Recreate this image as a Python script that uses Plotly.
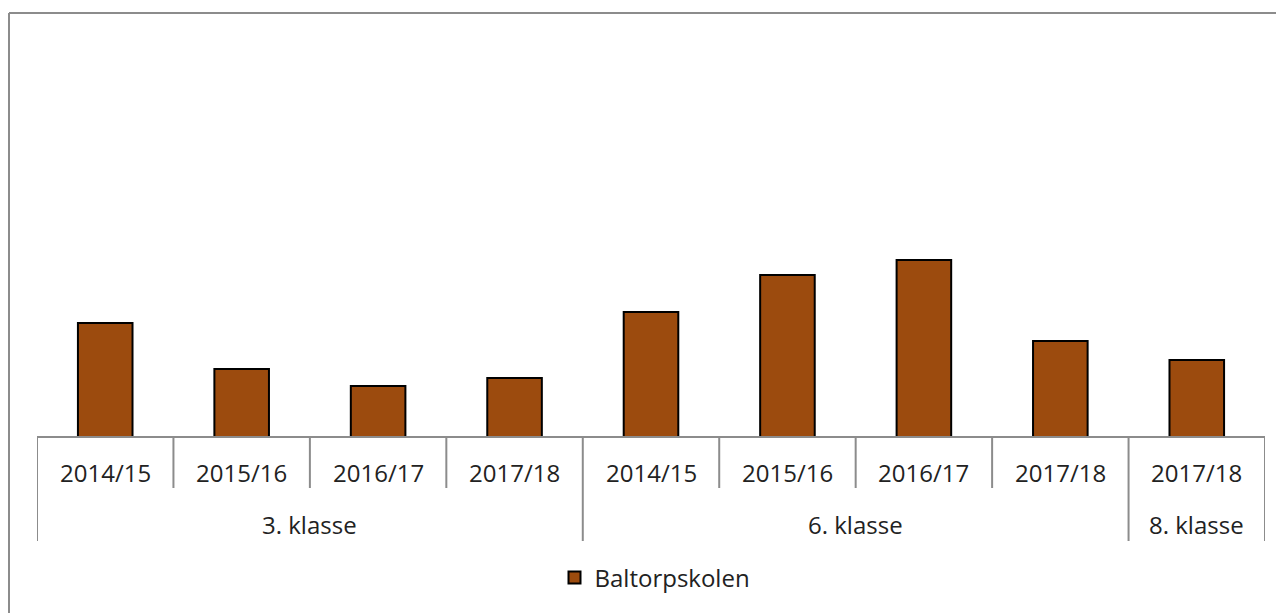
import plotly.graph_objects as go

years = ["2014/15", "2015/16", "2016/17", "2017/18",
         "2014/15", "2015/16", "2016/17", "2017/18", "2017/18"]
groups = ["3. klasse", "6. klasse", "8. klasse"]
group_sizes = [4, 4, 1]
values = [11.4, 6.8, 5.1, 5.9, 12.5, 16.2, 17.7, 9.6, 7.7]
series_name = "Baltorpskolen"

# page offset (body margin) in the screenshot
OFF = 8
W, H = 1284, 613
L, R, T, B = 37 - OFF, 1284 - 1265 + OFF, 30 - OFF, 613 - 437 + OFF
pw, ph = W - L - R, H - T - B

def px_x(p):
    return (p - OFF - L) / pw

def px_y(p):
    return (H - B - (p - OFF)) / ph

xs = list(range(len(values)))
fig = go.Figure()
fig.add_trace(go.Bar(
    x=xs, y=values, name=series_name, width=0.40,
    marker=dict(color="#9C4B0E", line=dict(color="#000000", width=2)),
    showlegend=True,
))

grey = "#8C8C8C"
shapes = []
# border (left + top)
shapes.append(dict(type="line", xref="paper", yref="paper",
                   x0=px_x(OFF + 1), x1=px_x(1300), y0=px_y(13), y1=px_y(13),
                   line=dict(color=grey, width=2)))
shapes.append(dict(type="line", xref="paper", yref="paper",
                   x0=px_x(OFF + 1), x1=px_x(OFF + 1), y0=px_y(13), y1=px_y(640),
                   line=dict(color=grey, width=2)))
# axis line
shapes.append(dict(type="line", xref="x", yref="paper",
                   x0=-0.5, x1=len(values) - 0.5, y0=0, y1=0,
                   line=dict(color=grey, width=2)))
# dividers
short_y = px_y(488)
long_y = px_y(541)
bounds = [-0.5]
acc = -0.5
for s in group_sizes:
    acc += s
    bounds.append(acc)
for i in range(len(values) + 1):
    xv = i - 0.5
    yend = long_y if xv in bounds else short_y
    shapes.append(dict(type="line", xref="x", yref="paper",
                       x0=xv, x1=xv, y0=0, y1=yend,
                       line=dict(color=grey, width=2)))

annotations = []
for i, lab in enumerate(years):
    annotations.append(dict(x=i, y=px_y(472), xref="x", yref="paper",
                            text=lab, showarrow=False,
                            font=dict(size=24, color="#222222"),
                            xanchor="center", yanchor="middle"))
start = 0
for g, s in zip(groups, group_sizes):
    annotations.append(dict(x=start + (s - 1) / 2, y=px_y(524), xref="x", yref="paper",
                            text=g, showarrow=False,
                            font=dict(size=24, color="#222222"),
                            xanchor="center", yanchor="middle"))
    start += s

fig.update_layout(
    width=W, height=H,
    margin=dict(l=L, r=R, t=T, b=B),
    paper_bgcolor="white", plot_bgcolor="white",
    font=dict(family="Open Sans, sans-serif", size=24, color="#222222"),
    xaxis=dict(range=[-0.5, len(values) - 0.5], showticklabels=False,
               showgrid=False, zeroline=False, showline=False, ticks=""),
    yaxis=dict(range=[0, ph / 10], showticklabels=False, showgrid=False,
               zeroline=False, showline=False, ticks=""),
    shapes=shapes, annotations=annotations,
    legend=dict(orientation="h", x=px_x(655), xanchor="center",
                y=px_y(578), yanchor="middle",
                font=dict(size=24, color="#222222"),
                bgcolor="rgba(0,0,0,0)"),
    bargap=0.6,
)

fig.write_html("out.html")
